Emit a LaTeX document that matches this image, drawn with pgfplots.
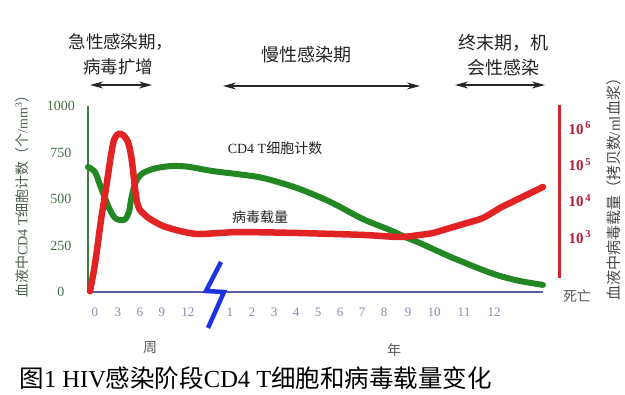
\documentclass[border=0pt]{standalone}
\usepackage{pgfplots}
\pgfplotsset{compat=1.18}
\usepackage{fontspec}
\setmainfont{Liberation Serif}
\newfontfamily\cjk{Noto Sans CJK SC}
\usetikzlibrary{arrows.meta}
\definecolor{redc}{RGB}{225,35,35}
\definecolor{greenc}{RGB}{35,135,35}
\definecolor{yspine}{RGB}{60,125,60}
\definecolor{xline}{RGB}{95,95,160}
\definecolor{rspine}{RGB}{205,40,45}
\definecolor{ytickc}{RGB}{70,110,70}
\definecolor{xtickc}{RGB}{130,140,175}
\definecolor{rtickc}{RGB}{175,30,55}
\definecolor{ylabc}{RGB}{75,95,75}
\definecolor{rlabc}{RGB}{70,70,70}
\definecolor{boltc}{RGB}{30,50,230}
\definecolor{txtc}{RGB}{35,35,35}
\begin{document}
\begin{tikzpicture}
\path[use as bounding box] (0pt,0pt) rectangle (625pt,-395pt);
% left axis: CD4 T cell count
\begin{axis}[
  at={(88pt,-292pt)}, anchor=south west,
  scale only axis, width=455pt, height=186pt,
  xmin=88, xmax=543, ymin=0, ymax=1000,
  axis lines*=left,
  axis line style={-},
  x axis line style={draw=xline, line width=2pt},
  y axis line style={draw=yspine, line width=2.5pt},
  clip=false,
  major tick length=0pt, minor tick length=0pt,
  ytick={0,250,500,750,1000},
  yticklabels={0,250,500,750,1000},
  yticklabel style={anchor=center, xshift=-27pt, text=ytickc, font=\fontsize{14}{14}\selectfont},
  xtick={95,118,140,162,188,230,252,274,296,318,340,362,384,408,434,464,494},
  xticklabels={0,3,6,9,12,1,2,3,4,5,6,7,8,9,10,11,12},
  xticklabel style={anchor=center, yshift=-20pt, text=xtickc, font=\fontsize{13}{13}\selectfont},
]
\addplot[greenc, line width=6pt, line cap=round, line join=round, smooth, tension=0.5] coordinates {
 (88,672) (95,645) (100,575) (105,505) (110,441) (115,398) (120,387) (125,390)
 (129,430) (131,495) (134,564) (138,613) (143,640) (150,656) (157,667) (170,677)
 (180,677) (190,672) (213,650) (237,634) (263,613) (297,559) (330,485) (363,392)
 (390,333) (405,296) (420,263) (450,190) (483,118) (500,86) (520,59) (543,38)
};
\end{axis}
% right axis: viral load (log)
\begin{axis}[
  at={(88pt,-292pt)}, anchor=south west,
  scale only axis, width=455pt, height=186pt,
  xmin=88, xmax=543, ymode=log, ymin=30.6, ymax=4.04e6,
  hide x axis,
  axis y line*=right,
  y axis line style={draw=none},
  clip=false,
  major tick length=0pt, minor tick length=0pt,
  minor ytick={}, every minor tick/.style={draw=none},
  ytick={1e3,1e4,1e5,1e6},
  yticklabels={\textbf{10}\textsuperscript{\,\textbf{3}},\textbf{10}\textsuperscript{\,\textbf{4}},\textbf{10}\textsuperscript{\,\textbf{5}},\textbf{10}\textsuperscript{\,\textbf{6}}},
  yticklabel style={anchor=west, xshift=22pt, text=rtickc, font=\fontsize{15}{15}\selectfont},
]
\addplot[redc, line width=6.5pt, line cap=round, line join=round, smooth, tension=0.45] coordinates {
 (90,32) (94,124) (97,438) (101,2940) (105,14300) (108,50900) (111,181000)
 (114,468000) (118,684000) (123,643000) (128,412000) (131,181000) (133,69800)
 (135,22300) (137,9190) (140,5530) (145,4030) (150,3130) (163,2010) (180,1460)
 (197,1210) (220,1290) (240,1370) (297,1290) (363,1140) (400,1000) (420,1140)
 (433,1290) (450,1770) (467,2430) (483,3340) (500,6290) (510,8630) (543,23800)
};
\end{axis}
% right spine
\draw[rspine, line width=3pt] (559pt,-105pt) -- (559pt,-278pt);
% break mark
\draw[boltc, line width=4.5pt, line join=miter] (221pt,-262pt) -- (206pt,-291pt) -- (224pt,-292pt) -- (208pt,-328pt);
% curve labels
\node[txtc, font=\fontsize{14}{14}\selectfont] at (275pt,-148pt) {CD4 T{\cjk 细胞计数}};
\node[txtc, font=\fontsize{14}{14}\selectfont\cjk] at (260pt,-217pt) {病毒载量};
% phase labels and arrows
\node[txtc, font=\fontsize{17.5}{18}\selectfont\cjk] at (121pt,-42pt) {急性感染期，};
\node[txtc, font=\fontsize{17.5}{18}\selectfont\cjk] at (118pt,-67pt) {病毒扩增};
\node[txtc, font=\fontsize{18}{18}\selectfont\cjk] at (306pt,-55pt) {慢性感染期};
\node[txtc, font=\fontsize{18}{18}\selectfont\cjk] at (503pt,-43pt) {终末期，机};
\node[txtc, font=\fontsize{18}{18}\selectfont\cjk] at (503pt,-68pt) {会性感染};
\tikzset{phase/.style={draw=black!85, line width=1.1pt, {Stealth[length=13pt,width=7pt]}-{Stealth[length=13pt,width=7pt]}}}
\draw[phase] (90pt,-85pt) -- (152pt,-85pt);
\draw[phase] (223pt,-86pt) -- (420pt,-86pt);
\draw[phase] (455pt,-85pt) -- (545pt,-85pt);
% axis unit labels
\node[black!65, font=\fontsize{14}{14}\selectfont\cjk] at (150pt,-348pt) {周};
\node[black!65, font=\fontsize{14}{14}\selectfont\cjk] at (394pt,-350pt) {年};
\node[black!65, font=\fontsize{14}{14}\selectfont\cjk] at (577pt,-296pt) {死亡};
% y labels
\node[ylabc, rotate=90, font=\fontsize{14}{14}\selectfont] at (22pt,-193pt) {{\cjk 血液中}CD4 T{\cjk 细胞计数（个}/mm\textsuperscript{3}{\cjk ）}};
\node[rlabc, rotate=90, font=\fontsize{15}{15}\selectfont] at (614pt,-186pt) {{\cjk 血液中病毒载量（拷贝数}/ml{\cjk 血浆）}};
% title
\node[black, anchor=west, font=\fontsize{24.5}{25}\selectfont] at (16pt,-378pt) {{\cjk 图}1 HIV{\cjk 感染阶段}CD4 T{\cjk 细胞和病毒载量变化}};
\end{tikzpicture}
\end{document}
